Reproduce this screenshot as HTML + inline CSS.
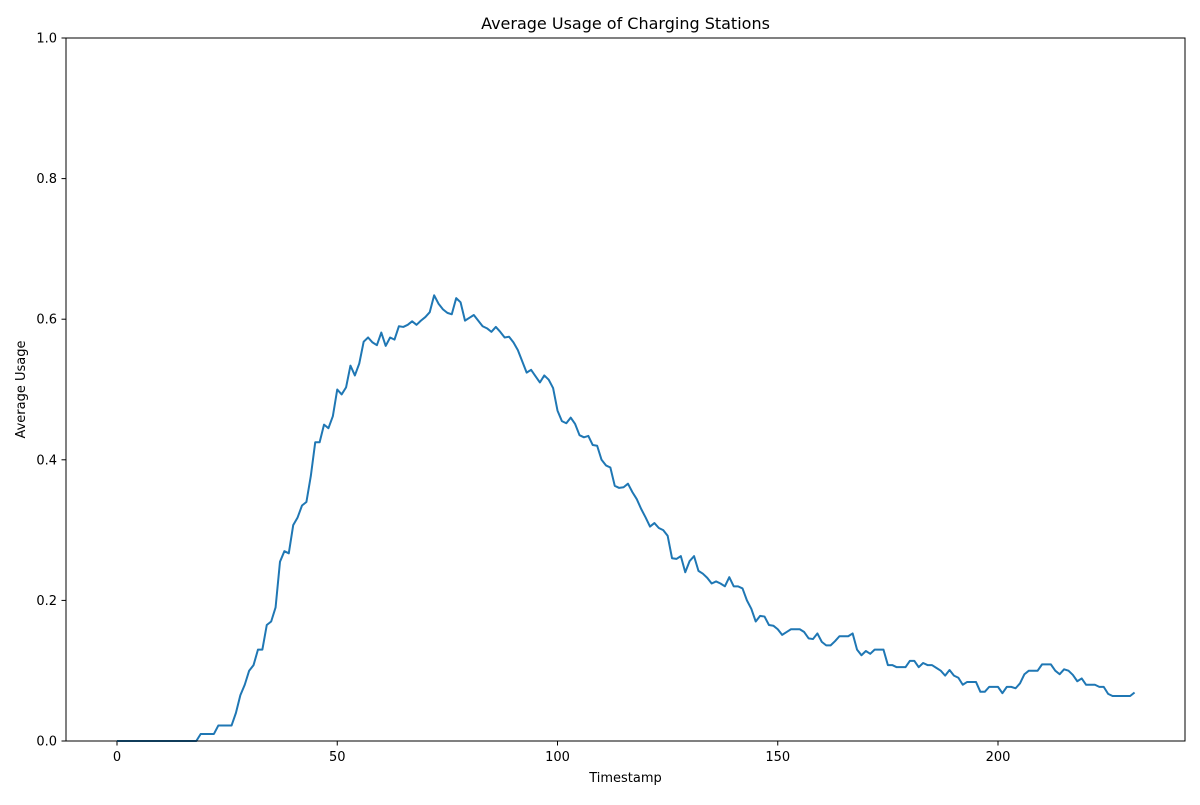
<!DOCTYPE html>
<html><head><meta charset="utf-8"><style>
body{margin:0;background:#fff;font-family:"Liberation Sans","DejaVu Sans",sans-serif}
svg text{font-family:"DejaVu Sans","Liberation Sans",sans-serif}
</style></head><body>
<svg id="chart" width="1200" height="800">
<rect width="1200" height="800" fill="#fff"/>
<text x="625.5" y="29" text-anchor="middle" font-size="16">Average Usage of Charging Stations</text>
<g id="xt"></g>
<g id="yt"></g>
<text x="625.5" y="782" text-anchor="middle" font-size="13">Timestamp</text>
<text transform="translate(25,389.5) rotate(-90)" text-anchor="middle" font-size="13">Average Usage</text>
<path id="line" fill="none" stroke="#1f77b4" stroke-width="2" stroke-linejoin="round"/>
<rect x="66" y="38" width="1119" height="703" fill="none" stroke="#000" stroke-width="1"/>
</svg>
<script>
const usage = [0,0,0,0,0,0,0,0,0,0,0,0,0,0,0,0,0,0,0,0.01,0.01,0.01,0.01,0.022,0.022,0.022,0.022,0.04,0.065,0.08,0.1,
0.108,0.13,0.13,0.165,0.17,0.19,0.255,0.27,0.267,0.307,0.318,0.335,0.34,0.377,0.425,0.425,0.45,0.445,0.462,0.5,
0.493,0.503,0.534,0.52,0.537,0.568,0.574,0.567,0.563,0.581,0.562,0.574,0.571,0.59,0.589,0.592,0.597,0.592,0.598,0.603,
0.61,0.634,0.622,0.614,0.609,0.607,0.63,0.624,0.598,0.602,0.606,0.598,0.59,0.587,0.582,0.589,0.582,0.574,0.575,0.567,
0.556,0.54,0.524,0.528,0.519,0.51,0.52,0.514,0.502,0.47,0.455,0.452,0.46,0.451,0.435,0.432,0.434,0.421,0.42,0.4,
0.392,0.389,0.363,0.36,0.361,0.366,0.354,0.344,0.33,0.318,0.305,0.31,0.303,0.3,0.292,0.26,0.259,0.263,0.24,0.256,
0.263,0.242,0.238,0.232,0.224,0.227,0.224,0.22,0.233,0.22,0.22,0.217,0.2,0.188,0.17,0.178,0.177,0.165,0.164,0.159,
0.151,0.155,0.159,0.159,0.159,0.155,0.146,0.145,0.153,0.141,0.136,0.136,0.142,0.149,0.149,0.149,0.153,0.13,0.122,0.128,
0.124,0.13,0.13,0.13,0.108,0.108,0.105,0.105,0.105,0.114,0.114,0.105,0.111,0.108,0.108,0.104,0.1,0.093,0.101,0.093,
0.09,0.08,0.084,0.084,0.084,0.07,0.07,0.077,0.077,0.077,0.068,0.077,0.077,0.075,0.082,0.095,0.1,0.1,0.1,0.109,
0.109,0.109,0.1,0.095,0.102,0.1,0.094,0.085,0.089,0.08,0.08,0.08,0.077,0.077,0.067,0.064,0.064,0.064,0.064,
0.064,0.069];
const xTicks = [0,50,100,150,200];
const yTicks = [0,0.2,0.4,0.6,0.8,1.0];
const yTickLabels = ["0.0","0.2","0.4","0.6","0.8","1.0"];
const X = v => 117 + v*(998-117)/200;
const Y = v => 741 - v*703;
const NS="http://www.w3.org/2000/svg";
const xt=document.getElementById('xt'), yt=document.getElementById('yt');
xTicks.forEach(t=>{
  const l=document.createElementNS(NS,'line');
  l.setAttribute('x1',X(t));l.setAttribute('x2',X(t));l.setAttribute('y1',741);l.setAttribute('y2',745.5);l.setAttribute('stroke','#000');
  
  
  xt.appendChild(l);
  const s=document.createElementNS(NS,'text');
  s.setAttribute('x',X(t));s.setAttribute('y',761);s.setAttribute('text-anchor','middle');s.setAttribute('font-size','13');
  s.textContent=t;
  
  
  xt.appendChild(s);
});
yTicks.forEach((t,i)=>{
  const l=document.createElementNS(NS,'line');
  l.setAttribute('x1',61.5);l.setAttribute('x2',66);l.setAttribute('y1',Y(t));l.setAttribute('y2',Y(t));l.setAttribute('stroke','#000');
  
  
  yt.appendChild(l);
  const s=document.createElementNS(NS,'text');
  s.setAttribute('x',57);s.setAttribute('y',Y(t)+4.5);s.setAttribute('text-anchor','end');s.setAttribute('font-size','13');
  s.textContent=yTickLabels[i];
  
  
  yt.appendChild(s);
});
document.getElementById('line').setAttribute('d', usage.map((v,i)=>(i?'L':'M')+X(i).toFixed(2)+','+Y(v).toFixed(2)).join(''));
</script>
</body></html>
